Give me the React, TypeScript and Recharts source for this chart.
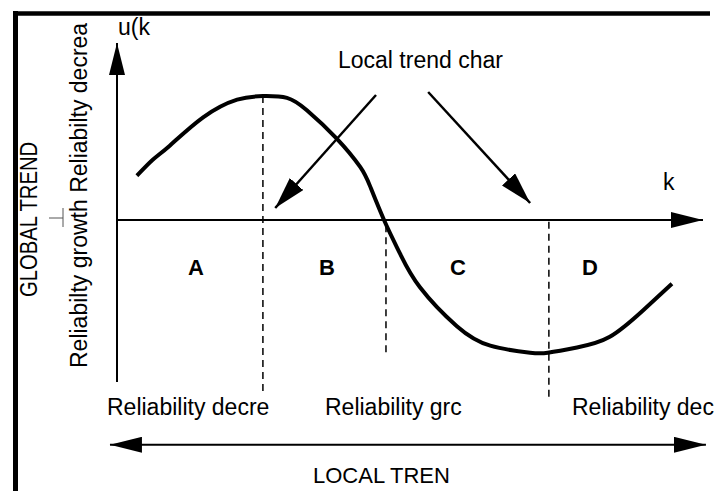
import { ComposedChart, Line, XAxis, YAxis, ReferenceLine } from "recharts";

// u(k) curve (k: 0..10 along the axis, u: -1..1)
const kValues = [0.34, 0.61, 0.9, 1.47, 2.05, 2.49, 2.9, 3.24, 3.75, 4.15, 4.32, 4.57, 4.83, 5.17, 5.8, 6.37, 7.05, 7.35, 7.85, 8.41, 8.98, 9.47];
const uValues = [0.25, 0.34, 0.42, 0.58, 0.68, 0.7, 0.69, 0.62, 0.46, 0.3, 0.19, -0.01, -0.19, -0.38, -0.6, -0.71, -0.75, -0.75, -0.72, -0.66, -0.51, -0.36];

// dashed boundaries between the local trend sections
const boundaryK = [2.49, 4.59, 7.37];
const boundaryTop = [0.7, -0.03, -0.01];
const boundaryBottom = [-0.99, -0.75, -1.02];

// "Local trend char" pointer arrows: [fromK, fromU, toK, toU]
const pointerArrows = [
  [4.42, 0.706, 2.7, 0.068],
  [5.31, 0.723, 7.05, 0.096],
];

const sectionLabels = ["A", "B", "C", "D"];
const sectionLabelX = [196, 327, 458, 590];

const bottomLabels = ["Reliability decre", "Reliability grc", "Reliability dec"];
const bottomLabelX = [107, 325, 572];

const curveData = kValues.map((k, i) => ({ k, u: uValues[i] }));

const FONT = "'Liberation Sans', Arial, sans-serif";

export default function App() {
  return (
    <div style={{ position: "relative", width: 726, height: 491, background: "#fff" }}>
      <style>{`body { margin: 0; }`}</style>
      <svg width={0} height={0} style={{ position: "absolute" }}>
        <defs>
          <marker
            id="arrowBig"
            viewBox="0 0 32 16"
            markerWidth={32}
            markerHeight={16}
            refX={32}
            refY={8}
            orient="auto-start-reverse"
            markerUnits="userSpaceOnUse"
          >
            <path d="M0,0 L32,8 L0,16 z" fill="#000" />
          </marker>
          <marker
            id="arrowSmall"
            viewBox="0 0 32 18"
            markerWidth={32}
            markerHeight={18}
            refX={32}
            refY={9}
            orient="auto"
            markerUnits="userSpaceOnUse"
          >
            <path d="M0,0 L32,9 L0,18 z" fill="#000" />
          </marker>
        </defs>
      </svg>

      <ComposedChart
        width={726}
        height={491}
        data={curveData}
        margin={{ top: 43, right: 23, bottom: 94, left: 117 }}
      >
        <XAxis dataKey="k" type="number" domain={[0, 10]} hide allowDataOverflow />
        <YAxis type="number" domain={[-1, 1]} hide allowDataOverflow />

        {/* axes */}
        <ReferenceLine
          segment={[{ x: 0, y: -0.915 }, { x: 0, y: 1 }]}
          stroke="#000"
          strokeWidth={2}
          markerEnd="url(#arrowBig)"
          ifOverflow="visible"
        />
        <ReferenceLine
          segment={[{ x: 0, y: 0 }, { x: 10, y: 0 }]}
          stroke="#000"
          strokeWidth={2}
          markerEnd="url(#arrowBig)"
          ifOverflow="visible"
        />

        {boundaryK.map((k, i) => (
          <ReferenceLine
            key={"b" + i}
            segment={[{ x: k, y: boundaryTop[i] }, { x: k, y: boundaryBottom[i] }]}
            stroke="#000"
            strokeWidth={1.5}
            strokeDasharray="7 5"
            ifOverflow="visible"
          />
        ))}

        {pointerArrows.map((a, i) => (
          <ReferenceLine
            key={"p" + i}
            segment={[{ x: a[0], y: a[1] }, { x: a[2], y: a[3] }]}
            stroke="#000"
            strokeWidth={2.5}
            markerEnd="url(#arrowSmall)"
            ifOverflow="visible"
          />
        ))}

        {/* local trend double arrow */}
        <ReferenceLine
          segment={[{ x: -0.12, y: -1.27 }, { x: 10.05, y: -1.27 }]}
          stroke="#000"
          strokeWidth={2}
          markerStart="url(#arrowBig)"
          markerEnd="url(#arrowBig)"
          ifOverflow="visible"
        />

        <Line
          type="natural"
          dataKey="u"
          stroke="#000"
          strokeWidth={4}
          dot={false}
          isAnimationActive={false}
        />
      </ComposedChart>

      <svg
        width={726}
        height={491}
        style={{ position: "absolute", left: 0, top: 0, pointerEvents: "none" }}
        fontFamily={FONT}
      >
        {/* frame */}
        <line x1={13} y1={13.5} x2={710} y2={13.5} stroke="#000" strokeWidth={4.5} />
        <line x1={15.5} y1={11} x2={15.5} y2={491} stroke="#000" strokeWidth={5} />

        {/* small tick on the global trend scale */}
        <line x1={49} y1={218} x2={63} y2={218} stroke="#555" strokeWidth={1} />
        <line x1={63} y1={208} x2={63} y2={227} stroke="#555" strokeWidth={1} />

        <text x={118} y={35} fontSize={23} fill="#000">u(k</text>
        <text x={663} y={190} fontSize={23} fill="#000">k</text>
        <text x={338} y={68} fontSize={23} fill="#000">Local trend char</text>

        <text transform="translate(87 368) rotate(-90)" fontSize={23} fill="#000">
          Reliabilty growth Reliabilty decrea
        </text>
        <text transform="translate(37 297) rotate(-90) scale(0.88 1)" fontSize={23} fill="#000">
          GLOBAL TREND
        </text>

        {sectionLabels.map((s, i) => (
          <text
            key={s}
            x={sectionLabelX[i]}
            y={275}
            fontSize={22}
            fontWeight="bold"
            textAnchor="middle"
            fill="#000"
          >
            {s}
          </text>
        ))}

        {bottomLabels.map((s, i) => (
          <text key={s} x={bottomLabelX[i]} y={415} fontSize={23} fill="#000">
            {s}
          </text>
        ))}

        <text x={313} y={483} fontSize={22} fill="#000">LOCAL TREN</text>
      </svg>
    </div>
  );
}
